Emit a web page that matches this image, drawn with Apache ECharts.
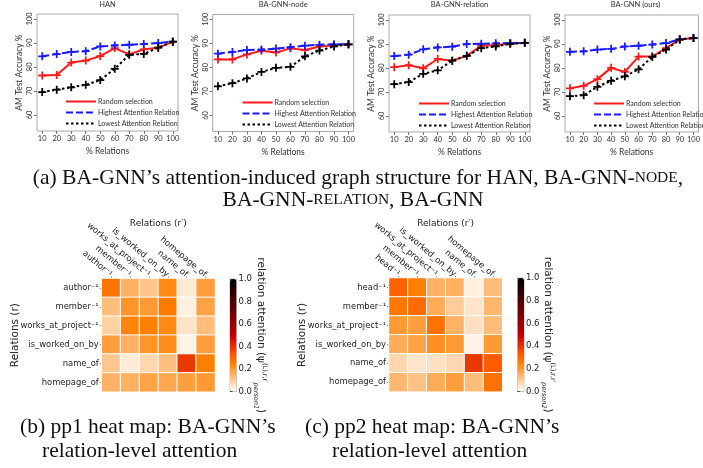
<!DOCTYPE html>
<html><head><meta charset="utf-8">
<script src="https://cdn.jsdelivr.net/npm/echarts@6/dist/echarts.min.js"></script>
<style>html,body{margin:0;padding:0;background:#fff}#c{width:703px;height:468px}</style>
</head><body><div id="c"></div>
<script>
// ---------- data ----------
const pctRelations = [10,20,30,40,50,60,70,80,90,100];
const yTicks = [60,70,80,90,100];
const seriesNames = ['Random selection','Highest Attention Relation','Lowest Attention Relation'];
const panelTitles = ['HAN','BA-GNN-node','BA-GNN-relation','BA-GNN (ours)'];

const hanRandom  = [76.4,76.6,81.8,82.6,84.5,87.8,85.2,87.3,88.0,90.4];
const hanHighest = [84.4,85.3,86.2,86.5,88.5,88.9,89.2,89.5,89.9,90.5];
const hanLowest  = [69.5,70.5,71.5,72.5,74.5,79.2,85.0,85.4,88.0,90.5];

const nodeRandom  = [83.3,83.3,85.4,86.9,86.2,87.9,87.2,88.7,89.2,89.6];
const nodeHighest = [85.7,86.4,87.2,87.4,87.8,88.4,89.0,89.4,89.6,89.6];
const nodeLowest  = [72.1,73.4,75.4,78.1,79.8,80.2,84.6,87.0,88.7,89.6];

const relRandom  = [80.3,81.1,79.8,83.7,83.0,85.0,89.2,89.5,90.0,90.4];
const relHighest = [84.9,85.5,87.7,88.5,88.8,89.9,90.0,90.2,90.3,90.4];
const relLowest  = [73.2,74.1,77.5,79.0,83.0,85.0,88.2,88.9,90.0,90.4];

const bagRandom  = [71.5,72.5,75.3,80.0,78.3,84.7,84.7,88.2,91.8,92.4];
const bagHighest = [86.7,86.9,87.6,87.9,88.9,89.2,89.7,90.3,91.9,92.4];
const bagLowest  = [68.2,68.6,72.1,74.6,76.5,79.4,84.6,87.6,91.8,92.4];

const panels = [
  [hanRandom, hanHighest, hanLowest],
  [nodeRandom, nodeHighest, nodeLowest],
  [relRandom, relHighest, relLowest],
  [bagRandom, bagHighest, bagLowest]
];

const pp1Rows = ['author⁻¹','member⁻¹','works_at_project⁻¹','is_worked_on_by','name_of','homepage_of'];
const pp2Rows = ['head⁻¹','member⁻¹','works_at_project⁻¹','is_worked_on_by','name_of','homepage_of'];
const pp1Attention = [
  [0.28,0.155,0.115,0.23,0.04,0.19],
  [0.13,0.21,0.20,0.26,0.03,0.18],
  [0.09,0.24,0.25,0.23,0.055,0.13],
  [0.19,0.155,0.21,0.225,0.025,0.19],
  [0.11,0.04,0.08,0.125,0.39,0.25],
  [0.15,0.155,0.18,0.17,0.19,0.20]
];
const pp2Attention = [
  [0.31,0.25,0.15,0.155,0.03,0.13],
  [0.27,0.29,0.165,0.10,0.05,0.14],
  [0.20,0.19,0.28,0.15,0.06,0.13],
  [0.165,0.18,0.22,0.20,0.025,0.20],
  [0.08,0.05,0.06,0.075,0.39,0.32],
  [0.14,0.12,0.165,0.19,0.13,0.28]
];
const colorbarTicks = [0,0.2,0.4,0.6,0.8,1.0];
// gist_heat_r colour stops (evenly spaced 0..1)
const heatColors = ['#ffffff','#ffd4aa','#ffaa55','#ff8000','#ff5500','#df2b00','#bf0000','#9f0000','#800000','#600000','#400000','#200000','#000000'];

// ---------- layout ----------
const lineGrids = [
  {left:37, top:14, width:141, height:117},
  {left:212.7, top:14.5, width:141, height:117},
  {left:389, top:15, width:141, height:117},
  {left:565, top:15, width:141, height:117}
];
const legendPos = [{left:65,top:98},{left:241.5,top:99},{left:418,top:100},{left:593,top:100}];
const lineColors = ['#ff1a1a','#1a1aff','#000000'];
const lineTypes = ['solid',[7,3],[2.5,2.5]];
const plusPath = 'path://M-1.1,-5H1.1V-1.1H5V1.1H1.1V5H-1.1V1.1H-5V-1.1H-1.1Z';
const sans = 'Lato';
const dj = 'DejaVu Sans';

const grid = [], xAxis = [], yAxis = [], series = [], legend = [], title = [];
lineGrids.forEach((g, i) => {
  grid.push(Object.assign({show:true, borderColor:'#a8a8a8', borderWidth:1, containLabel:false}, g));
  xAxis.push({type:'value', gridIndex:i, min:6.4, max:103.6,
    axisLine:{show:false}, splitLine:{show:false},
    axisTick:{show:true, customValues:pctRelations, length:3, lineStyle:{color:'#777'}},
    axisLabel:{customValues:pctRelations, fontSize:7.5, fontFamily:sans, color:'#333', margin:4},
    name:'% Relations', nameLocation:'middle', nameGap:16, nameTextStyle:{fontSize:8.5, fontFamily:sans, color:'#333'}});
  yAxis.push({type:'value', gridIndex:i, min:53.3, max:102,
    axisLine:{show:false}, splitLine:{show:false},
    axisTick:{show:true, customValues:yTicks, length:3, lineStyle:{color:'#777'}},
    axisLabel:{customValues:yTicks, rotate:90, fontSize:7.5, fontFamily:sans, color:'#333', margin:3},
    name:'AM Test Accuracy %', nameLocation:'middle', nameGap:13, nameTextStyle:{fontSize:8.5, fontFamily:sans, color:'#333'}});
  title.push({text:panelTitles[i], left:g.left + g.width/2, top:1, textAlign:'center', padding:0,
    textStyle:{fontSize:7.5, fontWeight:'normal', fontFamily:sans, color:'#333'}});
  panels[i].forEach((vals, k) => {
    series.push({type:'line', name:seriesNames[k], xAxisIndex:i, yAxisIndex:i,
      data: pctRelations.map((x, j) => [x, vals[j]]),
      symbol: plusPath, symbolSize: 8, symbolKeepAspect:true,
      itemStyle:{color:lineColors[k]},
      lineStyle:{color:lineColors[k], width:2, type:lineTypes[k]},
      z: k === 2 ? 4 : (k === 1 ? 3 : 2), animation:false});
  });
  legend.push(Object.assign({data:seriesNames, orient:'vertical', itemWidth:30, itemHeight:7, itemGap:4,
    padding:0, selectedMode:false, itemStyle:{opacity:0},
    textStyle:{fontSize:7, fontFamily:sans, color:'#333', padding:[0,0,0,-3]}}, legendPos[i]));
});

// heatmaps
const heatGrids = [
  {left:101.7, top:278.5, width:113.3, height:113.3},
  {left:389, top:278, width:113.3, height:113.7}
];
const cbarGrids = [
  {left:230, top:279, width:6.5, height:112.5},
  {left:517.5, top:278, width:6.5, height:113.5}
];
const heatRows = [pp1Rows, pp2Rows];
const heatVals = [pp1Attention, pp2Attention];
const personTags = ['person1','person2'];
heatGrids.forEach((g, h) => {
  const gi = grid.length;
  grid.push(Object.assign({show:false}, g));
  xAxis.push({type:'category', gridIndex:gi, position:'top', data:heatRows[h],
    axisLine:{show:false}, splitLine:{show:false},
    axisTick:{show:true, length:2, alignWithLabel:true, lineStyle:{color:'#888'}},
    axisLabel:{rotate:40, fontSize:8.5, fontFamily:dj, color:'#222', margin:3, interval:0},
    name:'Relations (r′)', nameLocation:'middle', nameGap:50, nameMoveOverlap:false,
    nameTextStyle:{fontSize:9, fontFamily:dj, color:'#222'}});
  yAxis.push({type:'category', gridIndex:gi, inverse:true, data:heatRows[h],
    axisLine:{show:false}, splitLine:{show:false},
    axisTick:{show:true, length:2, alignWithLabel:true, lineStyle:{color:'#888'}},
    axisLabel:{fontSize:8.4, fontFamily:dj, color:'#222', margin:3, interval:0},
    name:'Relations (r)', nameLocation:'middle', nameGap:81, nameMoveOverlap:false,
    nameTextStyle:{fontSize:10.5, fontFamily:dj, color:'#222'}});
  const data = [];
  heatVals[h].forEach((row, r) => row.forEach((v, c) => data.push([c, r, v])));
  series.push({type:'heatmap', name:'pp'+(h+1), xAxisIndex:gi, yAxisIndex:gi, data:data,
    itemStyle:{borderColor:'#ffffff', borderWidth:1}, animation:false});
});
const firstHeatSeries = series.length - 2;
cbarGrids.forEach((g, h) => {
  const gi = grid.length;
  grid.push(Object.assign({show:true, borderColor:'#999', borderWidth:0.6}, g));
  xAxis.push({type:'value', gridIndex:gi, show:false, min:0, max:1});
  yAxis.push({type:'value', gridIndex:gi, position:'right', min:0, max:1,
    axisLine:{show:false}, splitLine:{show:false},
    axisTick:{show:true, customValues:colorbarTicks, length:3, lineStyle:{color:'#333'}},
    axisLabel:{customValues:colorbarTicks, formatter:v => v.toFixed(1), fontSize:8.5, fontFamily:dj, color:'#222', margin:2},
    name:'relation attention ({psi|ψ}{sup|(L),r,r′}{sub|' + personTags[h] + '})',
    nameLocation:'middle', nameRotate:-90, nameGap:16, nameMoveOverlap:false,
    nameTextStyle:{fontSize:10.5, fontFamily:dj, color:'#222', lineHeight:16,
      rich:{psi:{fontSize:10.5, fontFamily:dj, color:'#222'},
            sup:{fontSize:6.5, fontFamily:dj, color:'#222', verticalAlign:'top'},
            sub:{fontSize:6.5, fontFamily:dj, fontStyle:'italic', color:'#222', verticalAlign:'bottom'}}}});
});
const visualMap = cbarGrids.map((g, h) => ({type:'continuous', seriesIndex:firstHeatSeries + h, min:0, max:1,
  left:g.left, top:g.top, itemWidth:g.width, itemHeight:g.height, calculable:false, padding:0,
  orient:'vertical', inRange:{color:heatColors}, show:true, hoverLink:false}));

// captions
const serif = 'Liberation Serif';
const capRich = {sc:{fontSize:15.5, fontFamily:serif, fill:'#111'}};
const capFont = '21.5px "Liberation Serif"';
function cap(text, x, y, align){
  return {type:'text', x:x, y:y, style:{text:text, font:capFont, fill:'#111', align:align, verticalAlign:'middle', rich:capRich}, z:100};
}
const graphic = [
  cap('(a) BA-GNN’s attention-induced graph structure for HAN, BA-GNN-{sc|NODE},', 358, 178, 'center'),
  cap('BA-GNN-{sc|RELATION}, BA-GNN', 353, 200, 'center'),
  cap('(b) pp1 heat map: BA-GNN’s', 20, 427, 'left'),
  cap('relation-level attention', 42, 451, 'left'),
  cap('(c) pp2 heat map: BA-GNN’s', 305, 427, 'left'),
  cap('relation-level attention', 332, 451, 'left')
];

const chart = echarts.init(document.getElementById('c'), null, {renderer:'canvas'});
chart.setOption({animation:false, backgroundColor:'#fff', title, grid, xAxis, yAxis, series, legend, visualMap, graphic});
</script></body></html>
